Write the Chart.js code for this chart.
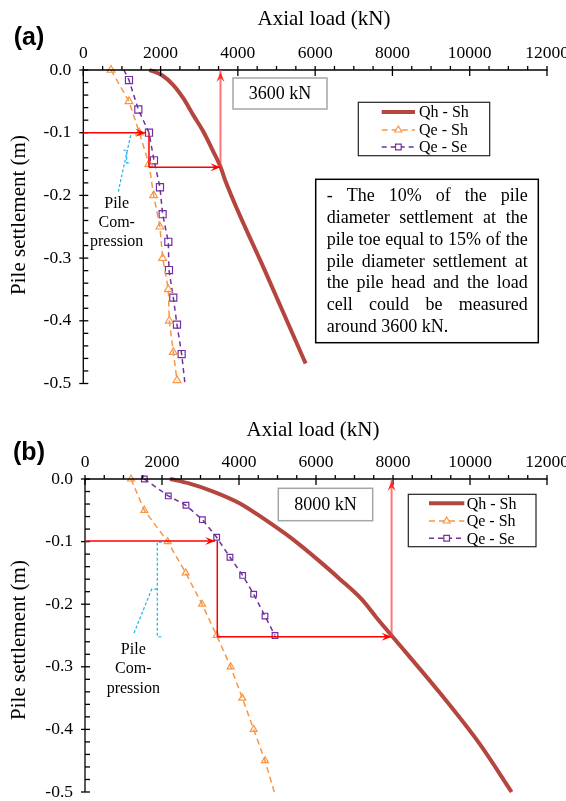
<!DOCTYPE html>
<html lang="en">
<head>
  <meta charset="UTF-8">
  <title>Pile load - settlement</title>
  <script src="https://cdn.jsdelivr.net/npm/chart.js"></script>
  <style>
    body { margin: 0; background: #fff; }
    canvas { position: absolute; left: 0; }
  </style>
</head>
<body>
  <canvas id="chartA" width="566" height="395" style="top:0"></canvas>
  <canvas id="chartB" width="566" height="406" style="top:395px"></canvas>

  <script>
    // ---- data (load in kN, settlement in m) ----
    const seriesNames = ['Qh - Sh', 'Qe - Sh', 'Qe - Se'];
    const loadTickStep = 2000;
    const settleTickStep = 0.1;

    // (a)
    const aQhShLoad   = [1708, 2028, 2329, 2587, 2846, 3105, 3364, 3555, 3666, 4699, 5754];
    const aQhShSettle = [0, -0.008, -0.024, -0.045, -0.072, -0.098, -0.13, -0.155, -0.175, -0.32, -0.468];
    const aQeShLoad   = [717, 1182, 1449, 1700, 1820, 1984, 2053, 2200, 2226, 2329, 2425];
    const aQeShSettle = [0, -0.05, -0.1, -0.15, -0.2, -0.25, -0.3, -0.35, -0.4, -0.45, -0.495];
    const aQeSeLoad   = [1050, 1182, 1424, 1700, 1829, 1984, 2053, 2200, 2217, 2329, 2424, 2545, 2631];
    const aQeSeSettle = [0, -0.016, -0.063, -0.1, -0.144, -0.187, -0.23, -0.274, -0.319, -0.363, -0.406, -0.453, -0.5];

    // (b)
    const bQhShLoad   = [2208, 2700, 3332, 4025, 4631, 5324, 6103, 6622, 7184, 7573, 7963, 9221, 10260, 11080];
    const bQhShSettle = [0, -0.007, -0.02, -0.039, -0.063, -0.093, -0.132, -0.16, -0.192, -0.2215, -0.25, -0.342, -0.424, -0.5];
    const bQeShLoad   = [1195, 1541, 2147, 2615, 3040, 3420, 3784, 4087, 4381, 4675, 4917];
    const bQeShSettle = [0, -0.05, -0.1, -0.15, -0.2, -0.25, -0.3, -0.35, -0.4, -0.45, -0.5];
    const bQeSeLoad   = [1541, 2164, 2623, 3048, 3420, 3766, 4095, 4381, 4675, 4935];
    const bQeSeSettle = [0, -0.027, -0.042, -0.065, -0.093, -0.125, -0.154, -0.184, -0.219, -0.25];

    // guide arrows and pile compression brackets (data units)
    const aArrowIn  = { x: [0, 1610],    y: [-0.1, -0.1] };
    const aDrop     = { x: [1700, 1700], y: [-0.1, -0.155] };
    const aArrowOut = { x: [1700, 3550], y: [-0.155, -0.155] };
    const aArrowUp  = { x: [3550, 3550], y: [-0.155, 0] };
    const aPileLeader  = { x: [1226, 905], y: [-0.104, -0.194] };
    const aPileBracket = { x: [1035, 1123, 1123, 1234], y: [-0.128, -0.128, -0.148, -0.148] };

    const bArrowIn  = { x: [0, 3380],    y: [-0.099, -0.099] };
    const bDrop     = { x: [3436, 3436], y: [-0.099, -0.252] };
    const bArrowOut = { x: [3436, 7963], y: [-0.252, -0.252] };
    const bArrowUp  = { x: [7963, 7963], y: [-0.252, 0] };
    const bPileBracket = { x: [1992, 1878, 1878, 2008], y: [-0.101, -0.101, -0.252, -0.252] };
    const bPileLeader  = { x: [1878, 1732, 1254], y: [-0.176, -0.176, -0.249] };

    const noteLines = [
      '- The 10% of the pile',
      'diameter settlement at the',
      'pile toe equal to 15% of the',
      'pile diameter settlement at',
      'the pile head and the load',
      'cell could be measured',
      'around 3600 kN.'
    ];
    const pileText = ['Pile', 'Com-', 'pression'];

    // ---- styles ----
    const SERIF = '"Liberation Serif", "Times New Roman", serif';
    const RED_CURVE = '#b5453f';
    const ORANGE = '#f79646';
    const PURPLE = '#7030a0';
    const CYAN = '#1fb2ec';

    const pts = (xs, ys) => xs.map((v, i) => ({ x: v, y: ys[i] }));

    function datasets(qh, qeSh, qeSe, triR, sqR, lastShHidden, firstSeHidden, lastSeHidden) {
      const triRadius = qeSh[0].map((_, i) => (lastShHidden && i === qeSh[0].length - 1) ? 0 : triR);
      const sqRadius = qeSe[0].map((_, i) =>
        ((firstSeHidden && i === 0) || (lastSeHidden && i === qeSe[0].length - 1)) ? 0 : sqR);
      return [
        {
          label: seriesNames[0], data: pts(qh[0], qh[1]), showLine: true,
          borderColor: RED_CURVE, borderWidth: 4, pointRadius: 0,
          cubicInterpolationMode: 'monotone', clip: 6
        },
        {
          label: seriesNames[1], data: pts(qeSh[0], qeSh[1]), showLine: true,
          borderColor: ORANGE, borderWidth: 1.5, borderDash: [6, 4],
          pointStyle: 'triangle', pointRadius: triRadius, pointBorderWidth: 1.2,
          pointBorderColor: ORANGE, pointBackgroundColor: 'rgba(255,255,255,0)', clip: 8
        },
        {
          label: seriesNames[2], data: pts(qeSe[0], qeSe[1]), showLine: true,
          borderColor: PURPLE, borderWidth: 1.5, borderDash: [5, 4],
          pointStyle: 'rect', pointRadius: sqRadius, pointBorderWidth: 1.2,
          pointBorderColor: PURPLE, pointBackgroundColor: 'rgba(255,255,255,0)', clip: 8
        }
      ];
    }

    function scales(yWidth, xHeight) {
      const tickFont = { family: SERIF, size: 17.5 };
      return {
        x: {
          type: 'linear', position: 'top', min: 0, max: 12000,
          ticks: { stepSize: loadTickStep, padding: 6, color: '#000', font: tickFont,
                   maxRotation: 0, autoSkip: false, callback: v => String(v) },
          grid: { display: false, drawTicks: false }, border: { display: false },
          afterFit(s) { s.height = xHeight; s.paddingLeft = 0; s.paddingRight = 0; }
        },
        y: {
          type: 'linear', min: -0.5, max: 0,
          ticks: { stepSize: settleTickStep, padding: 12, color: '#000', font: tickFont,
                   callback: v => v.toFixed(1) },
          grid: { display: false, drawTicks: false }, border: { display: false },
          afterFit(s) { s.width = yWidth; s.paddingTop = 0; s.paddingBottom = 0; }
        }
      };
    }

    function strokePath(ctx, px, py) {
      ctx.beginPath();
      px.forEach((x, i) => i ? ctx.lineTo(x, py[i]) : ctx.moveTo(x, py[i]));
      ctx.stroke();
    }

    function arrowHead(ctx, x1, y1, x2, y2, color) {
      const a = Math.atan2(y2 - y1, x2 - x1), L = 10, W = 4;
      const c = Math.cos(a), s = Math.sin(a);
      ctx.fillStyle = color;
      ctx.beginPath();
      ctx.moveTo(x2, y2);
      ctx.lineTo(x2 - L * c + W * s, y2 - L * s - W * c);
      ctx.lineTo(x2 - 0.6 * L * c, y2 - 0.6 * L * s);
      ctx.lineTo(x2 - L * c - W * s, y2 - L * s + W * c);
      ctx.closePath();
      ctx.fill();
    }

    function justify(ctx, lines, left, right, top, lh) {
      ctx.textBaseline = 'middle';
      ctx.textAlign = 'left';
      lines.forEach((ln, i) => {
        const y = top + i * lh;
        const words = ln.split(' ');
        if (i === lines.length - 1) { ctx.fillText(ln, left, y); return; }
        const sum = words.reduce((t, w) => t + ctx.measureText(w).width, 0);
        const gap = (right - left - sum) / (words.length - 1);
        let x = left;
        words.forEach(w => { ctx.fillText(w, x, y); x += ctx.measureText(w).width + gap; });
      });
    }

    function makeDecor(cfg) {
      return {
        id: 'decor',
        afterDraw(chart) {
          const ctx = chart.ctx, xs = chart.scales.x, ys = chart.scales.y, ca = chart.chartArea;
          const X = v => xs.getPixelForValue(v), Y = v => ys.getPixelForValue(v);
          const line = (x1, y1, x2, y2) => { ctx.beginPath(); ctx.moveTo(x1, y1); ctx.lineTo(x2, y2); ctx.stroke(); };
          ctx.save();

          // axes + tick marks
          ctx.strokeStyle = '#000'; ctx.lineWidth = 1.3; ctx.setLineDash([]);
          line(ca.left, ca.top, ca.right + 0.5, ca.top);
          line(ca.left, ca.top, ca.left, ca.bottom);
          for (let i = 0; i <= 24; i++) {
            const px = X(i * 500);
            if (i % 4 === 0) line(px, ca.top - 4, px, ca.top + 6); else line(px, ca.top - 4, px, ca.top);
          }
          for (let i = 0; i <= 25; i++) {
            const py = Y(-i * 0.02);
            if (i % 5 === 0) line(ca.left - 4, py, ca.left + 5, py); else line(ca.left, py, ca.left + 5, py);
          }

          // pile compression brackets
          ctx.strokeStyle = CYAN; ctx.lineWidth = 1.2; ctx.setLineDash([3, 2]);
          cfg.cyan.forEach(p => strokePath(ctx, p.x.map(X), p.y.map(Y)));
          ctx.setLineDash([]);

          // red guide arrows
          ctx.strokeStyle = '#ff0000'; ctx.lineWidth = 1.5;
          [cfg.arrowIn, cfg.drop, cfg.arrowOut].forEach(p => strokePath(ctx, p.x.map(X), p.y.map(Y)));
          [cfg.arrowIn, cfg.arrowOut].forEach(p =>
            arrowHead(ctx, X(p.x[0]), Y(p.y[0]), X(p.x[1]), Y(p.y[1]), '#ff0000'));
          ctx.strokeStyle = 'rgba(255,60,60,0.7)'; ctx.lineWidth = 2;
          const u = cfg.arrowUp;
          strokePath(ctx, u.x.map(X), u.y.map(Y));
          arrowHead(ctx, X(u.x[0]), Y(u.y[0]), X(u.x[1]), Y(u.y[1]) + 2, '#ff2a2a');

          // texts
          ctx.fillStyle = '#000';
          ctx.textAlign = 'center'; ctx.textBaseline = 'middle';
          ctx.font = 'bold 25px "Liberation Sans", Arial, sans-serif';
          ctx.fillText(cfg.panel, 29, cfg.panelY);
          ctx.font = '21px ' + SERIF;
          ctx.fillText('Axial load (kN)', cfg.titleX, cfg.titleY);
          ctx.save();
          ctx.translate(19, cfg.yTitleY); ctx.rotate(-Math.PI / 2);
          ctx.fillText('Pile settlement (m)', 0, 0);
          ctx.restore();

          ctx.font = '16px ' + SERIF;
          pileText.forEach((t, i) => ctx.fillText(t, cfg.pileX, cfg.pileY[i]));

          // load box
          const k = cfg.kBox;
          ctx.strokeStyle = '#a6a6a6'; ctx.lineWidth = 1.5;
          ctx.fillStyle = '#fff'; ctx.fillRect(k.x1, k.y1, k.x2 - k.x1, k.y2 - k.y1);
          ctx.strokeRect(k.x1, k.y1, k.x2 - k.x1, k.y2 - k.y1);
          ctx.fillStyle = '#000'; ctx.font = '18px ' + SERIF;
          ctx.fillText(k.text, (k.x1 + k.x2) / 2, (k.y1 + k.y2) / 2 + 1);

          // legend
          const g = cfg.legend;
          ctx.fillStyle = '#fff'; ctx.fillRect(g.x1, g.y1, g.x2 - g.x1, g.y2 - g.y1);
          ctx.strokeStyle = '#222'; ctx.lineWidth = 1.2;
          ctx.strokeRect(g.x1, g.y1, g.x2 - g.x1, g.y2 - g.y1);
          chart.data.datasets.forEach((ds, i) => {
            const y = g.rows[i], xm = (g.lx1 + g.lx2) / 2;
            ctx.strokeStyle = ds.borderColor; ctx.lineWidth = ds.borderWidth;
            ctx.setLineDash(ds.borderDash || []);
            line(g.lx1, y, g.lx2, y);
            ctx.setLineDash([]);
            if (i > 0) {
              ctx.fillStyle = '#fff';
              ctx.strokeStyle = ds.borderColor;
              ctx.lineWidth = 1.2;
              Chart.helpers.drawPoint(ctx, { pointStyle: ds.pointStyle, radius: 4, borderWidth: 1.2 }, xm, y);
            }
            ctx.fillStyle = '#000'; ctx.font = '16px ' + SERIF; ctx.textAlign = 'left';
            ctx.fillText(ds.label, g.tx, y + 1);
          });

          // note box
          if (cfg.note) {
            const n = cfg.note;
            ctx.fillStyle = '#fff'; ctx.fillRect(n.x1, n.y1, n.x2 - n.x1, n.y2 - n.y1);
            ctx.strokeStyle = '#000'; ctx.lineWidth = 1.5;
            ctx.strokeRect(n.x1, n.y1, n.x2 - n.x1, n.y2 - n.y1);
            ctx.fillStyle = '#000'; ctx.font = '18px ' + SERIF;
            justify(ctx, noteLines, n.left, n.right, n.top, n.lh);
          }
          ctx.restore();
        }
      };
    }

    function build(id, ds, padding, yWidth, xHeight, decor) {
      return new Chart(document.getElementById(id), {
        type: 'scatter',
        data: { datasets: ds },
        options: {
          responsive: false, devicePixelRatio: 1, animation: false,
          layout: { padding },
          plugins: { legend: { display: false }, tooltip: { enabled: false } },
          scales: scales(yWidth, xHeight)
        },
        plugins: [makeDecor(decor)]
      });
    }

    build('chartA',
      datasets([aQhShLoad, aQhShSettle], [aQeShLoad, aQeShSettle], [aQeSeLoad, aQeSeSettle], 4.5, 5, false, true, true),
      { left: 0, right: 19, top: 0, bottom: 11.5 }, 83.3, 70,
      {
        panel: '(a)', panelY: 38, titleX: 324, titleY: 19, yTitleY: 215,
        arrowIn: aArrowIn, drop: aDrop, arrowOut: aArrowOut, arrowUp: aArrowUp,
        cyan: [aPileLeader, aPileBracket],
        pileX: 116.7, pileY: [203.3, 222.7, 241.7],
        kBox: { x1: 233, y1: 78, x2: 327, y2: 109, text: '3600 kN' },
        legend: { x1: 358.3, y1: 102.3, x2: 489.7, y2: 155.7, rows: [112, 130, 147], lx1: 381.7, lx2: 415, tx: 419 },
        note: { x1: 315.7, y1: 179.3, x2: 538.3, y2: 342.7, left: 326.7, right: 527.7, top: 196.7, lh: 21.7 }
      });

    build('chartB',
      datasets([bQhShLoad, bQhShSettle], [bQeShLoad, bQeShSettle], [bQeSeLoad, bQeSeSettle], 4, 4, true, false, false),
      { left: 0, right: 19, top: 0, bottom: 9 }, 85, 84,
      {
        panel: '(b)', panelY: 58, titleX: 313, titleY: 35, yTitleY: 245,
        arrowIn: bArrowIn, drop: bDrop, arrowOut: bArrowOut, arrowUp: bArrowUp,
        cyan: [bPileBracket, bPileLeader],
        pileX: 133.3, pileY: [255, 274, 293.3],
        kBox: { x1: 278.3, y1: 93.3, x2: 372.7, y2: 125.7, text: '8000 kN' },
        legend: { x1: 408.3, y1: 99.3, x2: 536, y2: 151.7, rows: [108.3, 126, 143.3], lx1: 429, lx2: 464.3, tx: 466.7 }
      });
  </script>
</body>
</html>
